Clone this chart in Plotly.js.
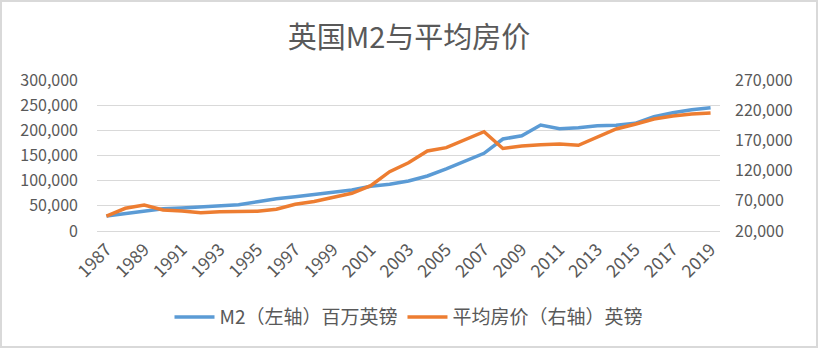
<!DOCTYPE html>
<html>
<head>
<meta charset="utf-8">
<script src="https://cdn.plot.ly/plotly-3.0.1.min.js"></script>
<style>
  html, body { margin: 0; padding: 0; background: #d9d9d9; width: 818px; height: 348px; overflow: hidden; }
  #chart { position: absolute; left: 2px; top: 2px; width: 814px; height: 344px; background: #ffffff; }
</style>
</head>
<body>
<div id="chart"></div>
<script>
const years = [1987,1988,1989,1990,1991,1992,1993,1994,1995,1996,1997,1998,1999,2000,2001,2002,2003,2004,2005,2006,2007,2008,2009,2010,2011,2012,2013,2014,2015,2016,2017,2018,2019];
const m2 = [29800,35200,39700,44300,45700,47700,49700,52300,58200,64200,68200,72500,76100,81500,88800,92800,99300,109300,123200,138500,154400,182800,189300,210600,203200,205200,209200,210000,214000,227100,235000,241000,245000];
const housePrice = [44800,57600,63000,54800,53100,50300,52000,52600,52600,56000,64200,68800,75100,82400,95000,118200,133000,152400,158000,171800,184400,156600,160700,162900,164000,161900,175100,188900,196700,205400,210400,213700,215400];
const seriesNames = ['M2（左轴）百万英镑', '平均房价（右轴）英镑'];
const titleText = '英国M2与平均房价';

const fontFam = '"Noto Sans CJK SC", "Noto Sans", sans-serif';
const textColor = '#595959';

const traces = [
  { x: years, y: m2, name: seriesNames[0], type: 'scatter', mode: 'lines',
    line: { color: '#5B9BD5', width: 3.5 }, yaxis: 'y' },
  { x: years, y: housePrice, name: seriesNames[1], type: 'scatter', mode: 'lines',
    line: { color: '#ED7D31', width: 3.5 }, yaxis: 'y2' }
];

const layout = {
  width: 814, height: 344,
  margin: { l: 95, r: 96, t: 78, b: 115 },
  paper_bgcolor: '#ffffff', plot_bgcolor: '#ffffff',
  font: { family: fontFam, color: textColor, size: 16 },
  title: { text: titleText, font: { size: 29, color: textColor, family: fontFam },
           x: 0.5, xanchor: 'center', xref: 'container', y: 0.895, yanchor: 'middle', yref: 'container' },
  showlegend: true,
  legend: { orientation: 'h', x: 0.5, xanchor: 'center', y: 0.084, yanchor: 'middle', yref: 'container',
            font: { size: 19, color: textColor, family: fontFam }, itemwidth: 40, tracegroupgap: 0 },
  xaxis: { type: 'linear', range: [1986.5, 2019.5], tick0: 1987, dtick: 2, tickformat: 'd',
           tickangle: -45, showgrid: false, zeroline: false, showline: false, ticks: '',
           ticklabelstandoff: 4, tickfont: { size: 17.5, color: textColor } },
  yaxis: { range: [0, 300000], dtick: 50000, tickformat: ',d', showgrid: true, gridcolor: '#d9d9d9', gridwidth: 1,
           zeroline: true, zerolinecolor: '#d9d9d9', zerolinewidth: 1, showline: false, ticks: '',
           ticklabelstandoff: 18, tickfont: { size: 16, color: textColor } },
  yaxis2: { range: [20000, 270000], dtick: 50000, tick0: 20000, tickformat: ',d', overlaying: 'y', side: 'right',
            showgrid: false, zeroline: false, showline: false, ticks: '', ticklabelstandoff: 14,
            tickfont: { size: 16, color: textColor } }
};

Plotly.newPlot('chart', traces, layout, { displayModeBar: false, staticPlot: true });
</script>
</body>
</html>
